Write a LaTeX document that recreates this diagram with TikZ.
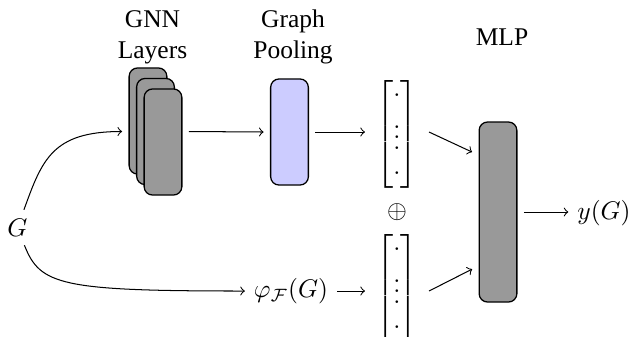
\documentclass[tikz,border=0pt]{standalone}
\usepackage{amsmath}
\usepackage[no-math]{fontspec}
\setmainfont{Liberation Serif}
\begin{document}
\begin{tikzpicture}[x=0.39216pt,y=-0.39216pt,
  layerbox/.style={draw, line width=0.5pt, rounded corners=3.3pt, minimum width=14.8pt, minimum height=41.6pt, inner sep=0pt, outer sep=2.75pt},
  graybox/.style={layerbox, fill=black!40},
  poolbox/.style={layerbox, fill=blue!20},
  vecnode/.style={inner sep=0pt, outer sep=4.5pt, font=\fontfamily{lmr}\selectfont},
  lbl/.style={align=center},
  conn/.style={->, line width=0.4pt}
]
\useasboundingbox (0,0) rectangle (632,336);
% labels
\node[lbl] (lgnn) at (152.5,37) {GNN\\Layers};
\node[lbl] (lpool) at (293,37) {Graph\\Pooling};
\node[lbl] (lmlp) at (502,37) {MLP};
% boxes
\node[graybox] (gnnA) at (148,121) {};
\node[graybox] (gnnB) at (155.5,131.5) {};
\node[graybox] (gnnC) at (163,142) {};
\node[poolbox] (pool) at (289.5,132) {};
\node[graybox, minimum height=70.6pt] (mlp) at (498,212) {};
% vectors
\node[vecnode] (vecA) at (397,134.5) {$\begin{bmatrix}\cdot\\ \vdots\\ \cdot\end{bmatrix}$};
\node (plus) at (397,212) {$\oplus$};
\node[vecnode] (vecB) at (397,288.5) {$\begin{bmatrix}\cdot\\ \vdots\\ \cdot\end{bmatrix}$};
% math texts
\node (G) at (17.5,227.5) {$G$};
\node (phi) at (291,291) {$\varphi_{\mathcal{F}}(G)$};
\node (yout) at (604,213) {$y(G)$};
\coordinate (gin) at (gnnA.west |- gnnB.west);
\coordinate (gout) at (gnnC.east |- gnnB.east);
% connectors
\draw[conn] (G) .. controls (42,160) and (52,131.5) .. (gin);
\draw[conn] (G) .. controls (40,285) and (60,291) .. (phi.west);
\draw[conn] (gout) -- (pool.west);
\draw[conn] (pool.east) -- (pool.east -| vecA.west);
\draw[conn] (phi.east) -- (phi.east -| vecB.west);
\draw[conn] (vecA.east |- pool.east) -- ([yshift=23.5pt]mlp.west);
\draw[conn] (vecB.east |- phi.east) -- ([yshift=-22.4pt]mlp.west);
\draw[conn] (mlp.east) -- (mlp.east -| yout.west);
\end{tikzpicture}
\end{document}
